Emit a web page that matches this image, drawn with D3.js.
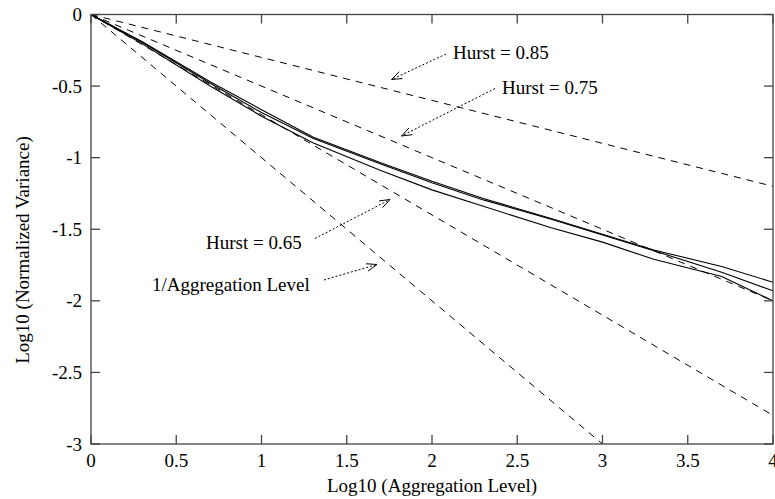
<!DOCTYPE html>
<html>
<head>
<meta charset="utf-8">
<script src="https://cdn.jsdelivr.net/npm/d3@7"></script>
<style>
  body { margin: 0; background: #fff; }
  text { font-family: "Liberation Serif", "Times New Roman", serif; fill: #000; }
</style>
</head>
<body>
<svg id="chart" width="775" height="499"></svg>
<script>
// log10 of the aggregation level m = 1, 2, 5, 10, 20, 50, ... 10000
const logLevels = [0, 0.301, 0.699, 1, 1.301, 1.699, 2, 2.301, 2.699, 3, 3.301, 3.699, 4];
// log10 of the normalized variance for the three measured traces
const varianceA = [0, -0.205, -0.50, -0.71, -0.895, -1.09, -1.225, -1.34, -1.49, -1.59, -1.71, -1.83, -2.0];
const varianceB = [0, -0.19, -0.47, -0.665, -0.855, -1.035, -1.165, -1.285, -1.425, -1.535, -1.645, -1.76, -1.87];
const varianceC = [0, -0.195, -0.48, -0.685, -0.865, -1.045, -1.175, -1.295, -1.43, -1.54, -1.65, -1.80, -1.93];
// reference slopes: Hurst parameter H gives slope 2H - 2; 1/m gives slope -1
const hurstValues = [0.85, 0.75, 0.65];
const referenceSlopes = [2 * 0.85 - 2, 2 * 0.75 - 2, 2 * 0.65 - 2, -1];
const xTicks = [0, 0.5, 1, 1.5, 2, 2.5, 3, 3.5, 4];
const yTicks = [0, -0.5, -1, -1.5, -2, -2.5, -3];
const xTickLabels = ["0", "0.5", "1", "1.5", "2", "2.5", "3", "3.5", "4"];
const yTickLabels = ["0", "-0.5", "-1", "-1.5", "-2", "-2.5", "-3"];

const svg = d3.select("#chart");
const W = 775, H = 499;
const m = { left: 91, right: 2, top: 14.5, bottom: 55 };
const iw = W - m.left - m.right, ih = H - m.top - m.bottom;

const x = d3.scaleLinear().domain([0, 4]).range([0, iw]);
const y = d3.scaleLinear().domain([-3, 0]).range([ih, 0]);

svg.append("defs").append("clipPath").attr("id", "plotclip")
  .append("rect").attr("width", iw).attr("height", ih);

const g = svg.append("g").attr("transform", `translate(${m.left},${m.top})`);

// reference slope lines
const plot = g.append("g").attr("clip-path", "url(#plotclip)");
const line = d3.line().x(d => x(d[0])).y(d => y(d[1]));
plot.selectAll("path.ref").data(referenceSlopes).join("path")
  .attr("class", "ref")
  .attr("d", s => line(x.domain().map(v => [v, s * v])))
  .attr("fill", "none").attr("stroke", "#000").attr("stroke-width", 1)
  .attr("stroke-dasharray", "7,6");

// measured traces
const series = [varianceA, varianceB, varianceC];
plot.selectAll("path.trace").data(series).join("path")
  .attr("class", "trace")
  .attr("d", vals => line(logLevels.map((lv, i) => [lv, vals[i]])))
  .attr("fill", "none").attr("stroke", "#000").attr("stroke-width", 1.1);

// frame with inward ticks on all four sides
const tickLen = 9;
const frame = g.append("g").attr("stroke", "#444").attr("stroke-width", 1.3).attr("fill", "none");
frame.append("rect").attr("width", iw).attr("height", ih);
xTicks.forEach(t => {
  frame.append("line").attr("x1", x(t)).attr("x2", x(t)).attr("y1", 0).attr("y2", tickLen);
  frame.append("line").attr("x1", x(t)).attr("x2", x(t)).attr("y1", ih).attr("y2", ih - tickLen);
});
yTicks.forEach(t => {
  frame.append("line").attr("x1", 0).attr("x2", tickLen).attr("y1", y(t)).attr("y2", y(t));
  frame.append("line").attr("x1", iw).attr("x2", iw - tickLen).attr("y1", y(t)).attr("y2", y(t));
});

const fs = 19;
g.selectAll("text.xt").data(xTicks).join("text").attr("class", "xt")
  .attr("x", d => x(d)).attr("y", ih + 23).attr("text-anchor", "middle")
  .attr("font-size", fs).text((d, i) => xTickLabels[i]);
g.selectAll("text.yt").data(yTicks).join("text").attr("class", "yt")
  .attr("x", -9).attr("y", d => y(d)).attr("dy", "0.35em").attr("text-anchor", "end")
  .attr("font-size", fs).text((d, i) => yTickLabels[i]);

svg.append("text").attr("x", m.left + iw / 2).attr("y", 492).attr("text-anchor", "middle")
  .attr("font-size", fs).text("Log10 (Aggregation Level)");
svg.append("text").attr("transform", "translate(29,250) rotate(-90)").attr("text-anchor", "middle")
  .attr("font-size", fs).text("Log10 (Normalized Variance)");

// annotations with dotted arrows
const notes = [
  { label: `Hurst = ${hurstValues[0]}`, tx: 453, ty: 59, from: [446, 54], to: [391.5, 79.5] },
  { label: `Hurst = ${hurstValues[1]}`, tx: 502, ty: 94, from: [495, 88.5], to: [401.5, 136] },
  { label: `Hurst = ${hurstValues[2]}`, tx: 206, ty: 249, from: [315, 238.5], to: [390, 199.5] },
  { label: "1/Aggregation Level", tx: 152, ty: 291, from: [324, 280], to: [377, 264.5] }
];
const ann = svg.append("g");
notes.forEach(n => {
  ann.append("text").attr("x", n.tx).attr("y", n.ty).attr("font-size", fs).text(n.label);
  ann.append("line").attr("x1", n.from[0]).attr("y1", n.from[1]).attr("x2", n.to[0]).attr("y2", n.to[1])
    .attr("stroke", "#000").attr("stroke-width", 1).attr("stroke-dasharray", "2,2");
  const ang = Math.atan2(n.to[1] - n.from[1], n.to[0] - n.from[0]);
  const hl = 11, hw = 0.35;
  [ang + Math.PI - hw, ang + Math.PI + hw].forEach(a => {
    ann.append("line").attr("x1", n.to[0]).attr("y1", n.to[1])
      .attr("x2", n.to[0] + hl * Math.cos(a)).attr("y2", n.to[1] + hl * Math.sin(a))
      .attr("stroke", "#000").attr("stroke-width", 1);
  });
});
</script>
</body>
</html>
